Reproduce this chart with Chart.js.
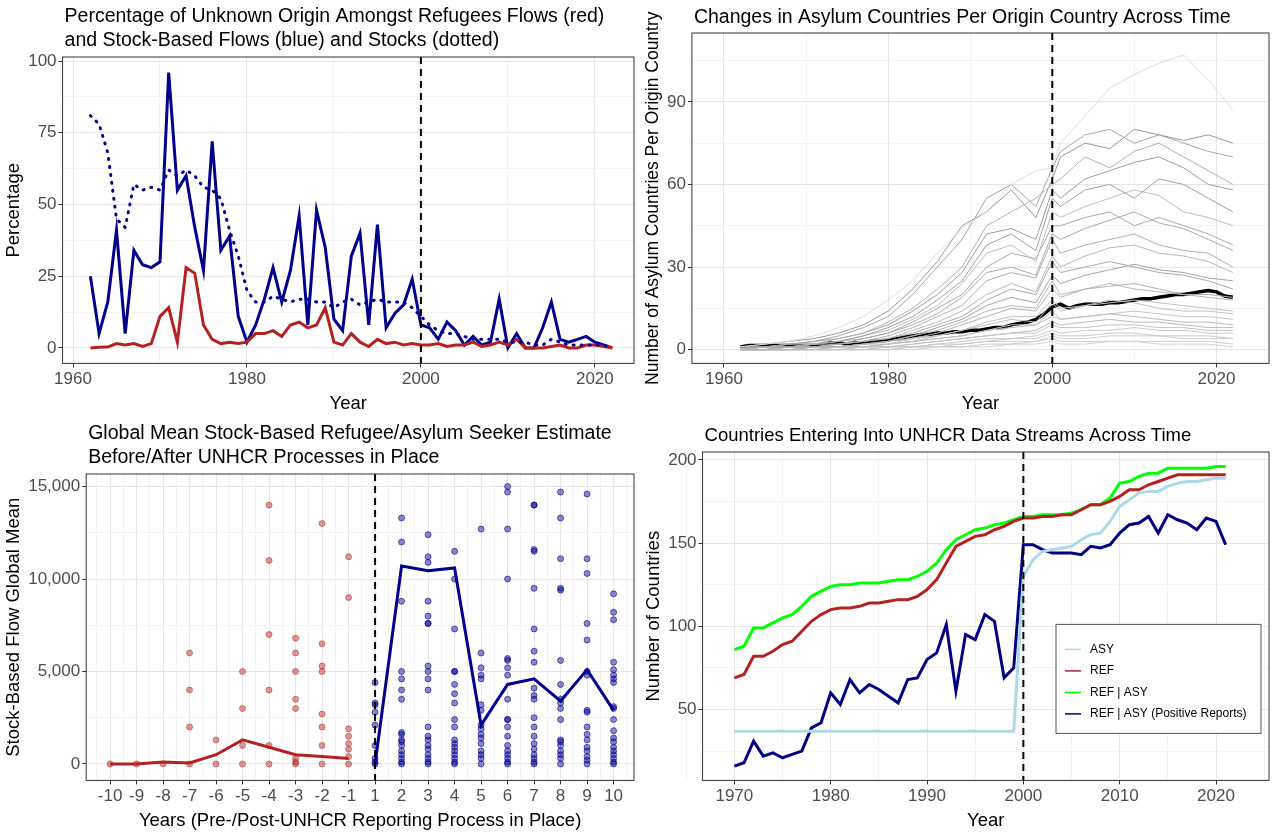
<!DOCTYPE html>
<html>
<head>
<meta charset="utf-8">
<script src="https://cdn.jsdelivr.net/npm/chart.js@4.4.1/dist/chart.umd.min.js"></script>
<style>
  body { margin: 0; background: #fff; }
  .cell { position: absolute; }
</style>
</head>
<body>
<div class="cell" style="left:0;top:0;width:640px;height:416px"><canvas id="c1"></canvas></div>
<div class="cell" style="left:640px;top:0;width:635px;height:416px"><canvas id="c2"></canvas></div>
<div class="cell" style="left:0;top:416px;width:640px;height:417px"><canvas id="c3"></canvas></div>
<div class="cell" style="left:640px;top:416px;width:635px;height:417px"><canvas id="c4"></canvas></div>
<script>
// ---- panel 1: unknown origin percentages, 1962-2022
const years1 = [];
for (let y = 1962; y <= 2022; y++) years1.push(y);
const stockFlowPct = [25,5,16,41,5,34,29,28,
  30,96,55,60,42,27,72,34,39,11,
  2,8,17,28,16,27,46,8,48,35,
  10,6,32,40,8,43,7,12,15,24,
  8,7,3,9,6,1,4,1,2,17,
  0,5,0,0,7,16,3,2,3,4,
  2,1,0];
const refFlowPct = [0,0.2,0.3,1.5,1,1.5,0.5,1.5,
  11,14,2,28,26,8,3,1.5,2,1.5,
  2,5,5,6,4,8,9,7,8,14,
  2,1,5,2,0.5,3,1.5,2,1,1.5,
  1,1,1.5,0.5,1,1,2,0.5,1,2,
  1,3,0,0,0,0.5,1,0,0,1,
  1,0.5,0];
const stockPct = [81,78,68,45,42,57,55,56,
  55,62,60,62,60,56,55,52,41,32,
  20,16,16,18,17,16,17,17,16,16,
  14,16,17,15,16,17,16,16,16,14,
  11,8,6,5,5,4,3,3,3,3,
  2,2,2,1,1,3,2,1,1,1,
  1,1,0];

// ---- panel 2: asylum countries per origin country
const greyYears = [1962,1965,1968,1971,1974,1977,1980,1983,1986,1989,1992,1995,1998,2000,2001,2004,2007,2010,2013,2016,2019,2022];
const greyLines = [
  [1,2,3,5,8,12,18,25,35,44,50,60,65,66,75,85,95,100,104,107,98,87],
  [1,1,2,3,5,8,12,20,30,40,55,60,52,66,72,78,80,75,78,75,72,70],
  [0,1,2,2,4,6,10,15,22,30,45,50,55,60,62,70,66,72,75,70,65,60],
  [1,2,3,4,6,9,14,22,32,45,50,58,48,62,70,75,73,80,78,76,78,75],
  [1,1,1,2,3,5,8,12,18,25,38,42,36,55,52,58,60,55,62,60,55,50],
  [0,1,1,2,3,5,7,11,16,24,35,38,32,50,48,52,55,58,56,50,48,45],
  [0,1,1,2,3,4,6,10,15,20,30,35,33,45,45,48,50,45,48,45,42,38],
  [0,0,1,1,2,3,5,8,12,16,25,28,26,40,35,38,40,42,38,36,35,30],
  [0,0,1,1,2,3,4,6,9,12,18,22,20,32,28,30,32,30,28,27,25,22],
  [0,0,0,1,1,2,3,5,7,10,14,16,15,25,20,22,24,22,21,20,19,18],
  [0,0,0,1,1,2,2,4,5,7,10,12,12,18,15,16,18,17,15,14,14,13],
  [0,0,0,0,1,1,2,3,4,5,7,8,9,14,11,12,13,12,11,10,10,9],
  [0,0,0,0,0,1,1,2,3,4,5,6,6,9,8,8,9,9,8,8,7,7],
  [0,0,0,0,0,0,1,1,2,2,3,4,4,6,5,5,6,6,5,5,5,4],
  [0,0,0,0,0,0,0,1,1,1,2,2,3,4,3,3,3,3,3,3,3,2],
  [1,1,2,3,4,6,9,14,20,28,42,44,40,58,55,62,65,68,70,66,60,58],
  [0,1,1,2,2,4,6,9,13,19,28,30,27,42,40,44,47,50,46,44,40,36],
  [0,0,1,1,2,3,4,7,10,14,20,24,21,34,30,34,37,38,35,34,32,28],
  [0,0,1,1,1,2,3,5,8,11,16,19,17,27,24,27,29,31,29,28,26,25],
  [0,0,0,1,1,2,3,4,6,9,12,15,14,22,19,22,23,24,22,20,20,19],
  [0,0,0,1,1,1,2,3,5,7,9,11,10,17,14,16,17,18,17,16,15,14],
  [0,0,0,0,1,1,2,3,4,5,7,9,9,12,11,12,13,14,13,12,12,11],
  [0,0,0,0,0,1,1,2,3,4,5,6,7,10,9,10,11,10,10,9,8,8],
  [0,0,0,0,0,0,1,1,2,3,4,4,5,7,6,7,7,8,7,7,6,6],
  [0,0,0,0,0,0,0,1,1,2,3,3,3,5,4,4,5,5,5,4,4,4],
  [0,0,0,0,0,0,0,0,1,1,1,2,2,3,2,2,3,3,2,2,2,1]
];
const greyShades = ['#dddddd','#a6a6a6','#b3b3b3','#999999','#a0a0a0','#bdbdbd','#aaaaaa','#b0b0b0','#a8a8a8','#b5b5b5','#c0c0c0','#bbbbbb','#c4c4c4','#c8c8c8','#cccccc',
  '#9e9e9e','#ababab','#b8b8b8','#a3a3a3','#b1b1b1','#bfbfbf','#c6c6c6','#bababa','#c9c9c9','#cfcfcf','#d2d2d2'];
const meanAsylum = [1,1.5,1.5,1.5,1.5,1.5,1.5,1.5,1.5,1.5,
  2,2.5,2.5,2,2.5,2.5,3,3,3.5,4,
  4.5,5,5.5,5.5,6,6,6.5,6.5,7,7,
  7.5,8,8,9,9.5,10,11,13,15.5,16.5,
  15,16,16.5,16.5,16.5,17,17,17.5,18,18.5,
  18.5,19,19.5,20,20,20.5,21,21.5,21,19.5,19];

// ---- panel 3: stock-based flow global mean, pre/post
const relLabels = ['-10','-9','-8','-7','-6','-5','-4','-3','-2','-1','1','2','3','4','5','6','7','8','9','10'];
const preMean = [0,0,100,50,500,1300,900,500,400,300];
const postMean = [0,10700,10450,10600,2100,4300,4600,3400,5100,2900];
const preDots = [
  [0],[0],[0],
  [6000,4000,2000,0],
  [1300,0],
  [5000,3000,1000,0],
  [14000,11000,7000,4000,1000,0],
  [6800,6000,5000,3500,3000,300,100,0],
  [13000,6500,5300,5000,2700,2000,1000,0],
  [11200,9000,1900,1500,1100,800,400,0]
];
const postDots = [
  [4400,3300,3200,2800,2100,1000,300,100,0],
  [13300,12000,8800,5000,4600,4000,3500,1700,1600,1300,1200,1000,700,500,300,100,0],
  [12400,11200,10900,8800,8000,7600,7600,5300,5000,4600,4000,2000,1500,1300,1000,800,500,300,100,0],
  [11500,10000,7300,5000,5000,4300,3800,3300,2400,2000,1300,1100,900,700,500,300,100,0],
  [12700,6000,5200,4800,4600,3200,2900,2100,1900,1600,1400,1100,700,500,300,0],
  [15000,14700,12700,10000,5700,5600,5200,4800,3500,2400,2400,2000,1500,1000,700,500,300,100,0],
  [14000,14000,11600,11500,9500,7300,6100,5500,4100,3700,3500,2500,2000,1500,1100,800,500,300,100,0],
  [14700,13300,11100,9500,9400,5600,4300,3500,3300,3000,2400,1300,1200,1000,700,500,300,0],
  [14600,11100,10300,7600,6700,5000,4800,2900,2800,2000,1600,1300,900,700,400,200,0],
  [9200,8200,7800,5500,5100,4800,4600,4400,3100,3000,2400,1800,1400,1200,900,700,500,300,100,0]
];

// ---- panel 4: countries entering UNHCR data streams, 1970-2021
const years4 = [];
for (let y = 1970; y <= 2021; y++) years4.push(y);
const asyCount = [37,37,37,37,37,37,37,37,37,37,
  37,37,37,37,37,37,37,37,37,37,
  37,37,37,37,37,37,37,37,37,37,
  130,140,145,146,147,148,152,155,156,163,
  172,176,180,181,181,184,186,187,187,188,189,189];
const refCount = [69,71,82,82,85,89,91,97,103,107,
  110,111,111,112,114,114,115,116,116,118,
  122,128,138,148,151,154,155,158,160,163,
  165,165,166,166,167,167,170,173,173,175,
  178,182,182,185,187,189,191,191,191,191,191,191];
const refAsyCount = [86,88,99,99,102,105,107,112,118,121,
  124,125,125,126,126,126,127,128,128,130,
  133,138,146,152,155,158,159,161,162,164,
  166,166,167,167,167,168,170,173,173,177,
  186,187,190,192,192,195,195,195,195,195,196,196];
const positiveCount = [16,18,31,22,24,21,23,25,39,42,
  60,53,68,60,65,62,58,54,68,69,
  80,84,101,61,95,92,107,103,69,75,
  149,149,146,144,144,144,143,148,147,149,
  156,161,162,166,156,167,164,162,158,165,163,149];

const FONT = "'Liberation Sans', Arial, sans-serif";
Chart.defaults.font.family = FONT;
Chart.defaults.animation = false;

const xy = (xs, ys) => ys.map((v, i) => ({ x: xs[i], y: v }));

// ggplot-ish title over the panel, panel border, dashed reference line, inset legend
const panelPlugin = {
  id: 'panel',
  afterDatasetsDraw(chart, args, opts) {
    const { ctx, chartArea: a, scales } = chart;
    ctx.save();
    if (opts.vline !== undefined) {
      const px = scales.x.getPixelForValue(opts.vline);
      ctx.strokeStyle = '#000';
      ctx.lineWidth = 2;
      ctx.setLineDash([7, 5]);
      ctx.beginPath(); ctx.moveTo(px, a.top); ctx.lineTo(px, a.bottom); ctx.stroke();
      ctx.setLineDash([]);
    }
    ctx.strokeStyle = '#333';
    ctx.lineWidth = 1;
    ctx.strokeRect(a.left, a.top, a.right - a.left, a.bottom - a.top);
    if (opts.title) {
      ctx.fillStyle = '#000';
      ctx.font = (opts.titleSize || 19.5) + 'px ' + FONT;
      ctx.textBaseline = 'middle';
      opts.title.forEach((t, i) => ctx.fillText(t, a.left + 2, a.top + opts.titleY + i * 24));
    }
    if (opts.legend) {
      const w = 205, h = 109;
      const x0 = a.right - w - 8, y0 = a.bottom - h - 47;
      ctx.fillStyle = '#fff';
      ctx.fillRect(x0, y0, w, h);
      ctx.strokeStyle = '#555';
      ctx.strokeRect(x0, y0, w, h);
      ctx.font = '12px ' + FONT;
      ctx.textBaseline = 'middle';
      chart.data.datasets.forEach((d, i) => {
        const yy = y0 + 25 + i * 21.5;
        ctx.strokeStyle = d.borderColor;
        ctx.lineWidth = 1.5;
        ctx.beginPath(); ctx.moveTo(x0 + 9, yy); ctx.lineTo(x0 + 25, yy); ctx.stroke();
        ctx.fillStyle = '#000';
        ctx.fillText(d.label, x0 + 34, yy);
      });
    }
    ctx.restore();
  }
};

function axis(min, max, ticks, major, opts = {}) {
  return Object.assign({
    type: 'linear', min, max,
    afterBuildTicks: (ax) => { ax.ticks = ticks.map(v => ({ value: v })); },
    border: { display: false },
    grid: {
      color: c => (Math.abs(c.tick.value % major) < 1e-9 ? '#e5e5e5' : '#f3f3f3'),
      tickColor: c => (Math.abs(c.tick.value % major) < 1e-9 ? '#333' : 'rgba(0,0,0,0)'),
      tickLength: 4, lineWidth: 1
    },
    ticks: {
      color: '#4d4d4d', font: { size: 17 }, autoSkip: false, maxRotation: 0, padding: 2,
      callback: v => (Math.abs(v % major) < 1e-9 ? v : '')
    }
  }, opts);
}
function axTitle(text, size) {
  return { display: true, text, color: '#000', font: { size: size || 18.5 }, padding: 1 };
}
const range = (a, b, s) => { const r = []; for (let v = a; v <= b + 1e-9; v += s) r.push(Math.round(v * 100) / 100); return r; };
const baseOpts = (top, panel, scales) => ({
  responsive: true, maintainAspectRatio: false,
  layout: { padding: { left: 2, right: 6, bottom: 0, top } },
  plugins: { legend: { display: false }, tooltip: { enabled: false }, panel },
  scales
});

// ---- panel 1
new Chart(document.getElementById('c1'), {
  type: 'line',
  data: {
    datasets: [
      { data: xy(years1, stockPct), borderColor: '#00008b', borderWidth: 3, borderDash: [1, 7], borderCapStyle: 'round', pointRadius: 0 },
      { data: xy(years1, refFlowPct), borderColor: '#b22222', borderWidth: 3, pointRadius: 0 },
      { data: xy(years1, stockFlowPct), borderColor: '#00008b', borderWidth: 3, pointRadius: 0 }
    ]
  },
  options: baseOpts(57, {
    vline: 2000, titleY: -40,
    title: ['Percentage of Unknown Origin Amongst Refugees Flows (red)', 'and Stock-Based Flows (blue) and Stocks (dotted)']
  }, {
    x: axis(1958.8, 2024.5, range(1960, 2020, 10), 20, { title: axTitle('Year') }),
    y: axis(-5.4, 101.4, range(0, 100, 12.5), 25, { title: axTitle('Percentage') })
  }),
  plugins: [panelPlugin]
});

// ---- panel 2
const greySets = greyLines.map((vals, i) => ({
  data: xy(greyYears, vals), borderColor: greyShades[i], borderWidth: 1, pointRadius: 0
}));
greySets.push({ data: xy(years1, meanAsylum), borderColor: '#000', borderWidth: 3.5, pointRadius: 0 });
new Chart(document.getElementById('c2'), {
  type: 'line',
  data: { datasets: greySets },
  options: baseOpts(33, {
    vline: 2000, titleY: -15,
    title: ['Changes in Asylum Countries Per Origin Country Across Time']
  }, {
    x: axis(1956.1, 2026.4, range(1960, 2020, 10), 20, { title: axTitle('Year') }),
    y: axis(-5, 115, range(0, 105, 15), 30, { title: axTitle('Number of Asylum Countries Per Origin Country', 17.5) })
  }),
  plugins: [panelPlugin]
});

// ---- panel 3
const preDotData = [], postDotData = [];
preDots.forEach((vals, i) => vals.forEach(v => preDotData.push({ x: i, y: v })));
postDots.forEach((vals, i) => vals.forEach(v => postDotData.push({ x: i + 10, y: v })));
new Chart(document.getElementById('c3'), {
  type: 'scatter',
  data: {
    datasets: [
      { data: preDotData, pointRadius: 3, backgroundColor: 'rgba(178,34,34,0.45)', borderColor: 'rgba(178,34,34,0.5)', borderWidth: 1 },
      { data: postDotData, pointRadius: 3, backgroundColor: 'rgba(0,0,139,0.45)', borderColor: 'rgba(0,0,139,0.6)', borderWidth: 1 },
      { type: 'line', data: preMean.map((v, i) => ({ x: i, y: v })), borderColor: '#b22222', borderWidth: 3, pointRadius: 0 },
      { type: 'line', data: postMean.map((v, i) => ({ x: i + 10, y: v })), borderColor: '#00008b', borderWidth: 3, pointRadius: 0 }
    ]
  },
  options: baseOpts(58, {
    vline: 10, titleY: -40,
    title: ['Global Mean Stock-Based Refugee/Asylum Seeker Estimate', 'Before/After UNHCR Processes in Place']
  }, {
    x: axis(-0.9, 19.77, range(-0.5, 19.5, 0.5), 1, {
      title: axTitle('Years (Pre-/Post-UNHCR Reporting Process in Place)'),
      ticks: { color: '#4d4d4d', font: { size: 17 }, autoSkip: false, maxRotation: 0, padding: 2,
        callback: v => (Number.isInteger(v) ? relLabels[v] : '') }
    }),
    y: axis(-890, 15680, range(0, 15000, 2500), 5000, {
      title: axTitle('Stock-Based Flow Global Mean'),
      ticks: { color: '#4d4d4d', font: { size: 17 }, autoSkip: false, padding: 2,
        callback: v => (v % 5000 === 0 ? v.toLocaleString('en-US') : '') }
    })
  }),
  plugins: [panelPlugin]
});

// ---- panel 4
new Chart(document.getElementById('c4'), {
  type: 'line',
  data: {
    datasets: [
      { label: 'ASY', data: xy(years4, asyCount), borderColor: '#add8e6', borderWidth: 3, pointRadius: 0 },
      { label: 'REF', data: xy(years4, refCount), borderColor: '#b22222', borderWidth: 3, pointRadius: 0 },
      { label: 'REF | ASY', data: xy(years4, refAsyCount), borderColor: '#00ff00', borderWidth: 3, pointRadius: 0 },
      { label: 'REF | ASY (Positive Reports)', data: xy(years4, positiveCount), borderColor: '#000080', borderWidth: 3, pointRadius: 0 }
    ]
  },
  options: baseOpts(36, {
    vline: 2000, legend: true, titleY: -16, titleSize: 18.5,
    title: ['Countries Entering Into UNHCR Data Streams Across Time']
  }, {
    x: axis(1966.7, 2025.5, range(1965, 2025, 5), 10, { title: axTitle('Year') }),
    y: axis(7.4, 204.7, range(25, 200, 25), 50, { title: axTitle('Number of Countries') })
  }),
  plugins: [panelPlugin]
});
</script>
</body>
</html>
